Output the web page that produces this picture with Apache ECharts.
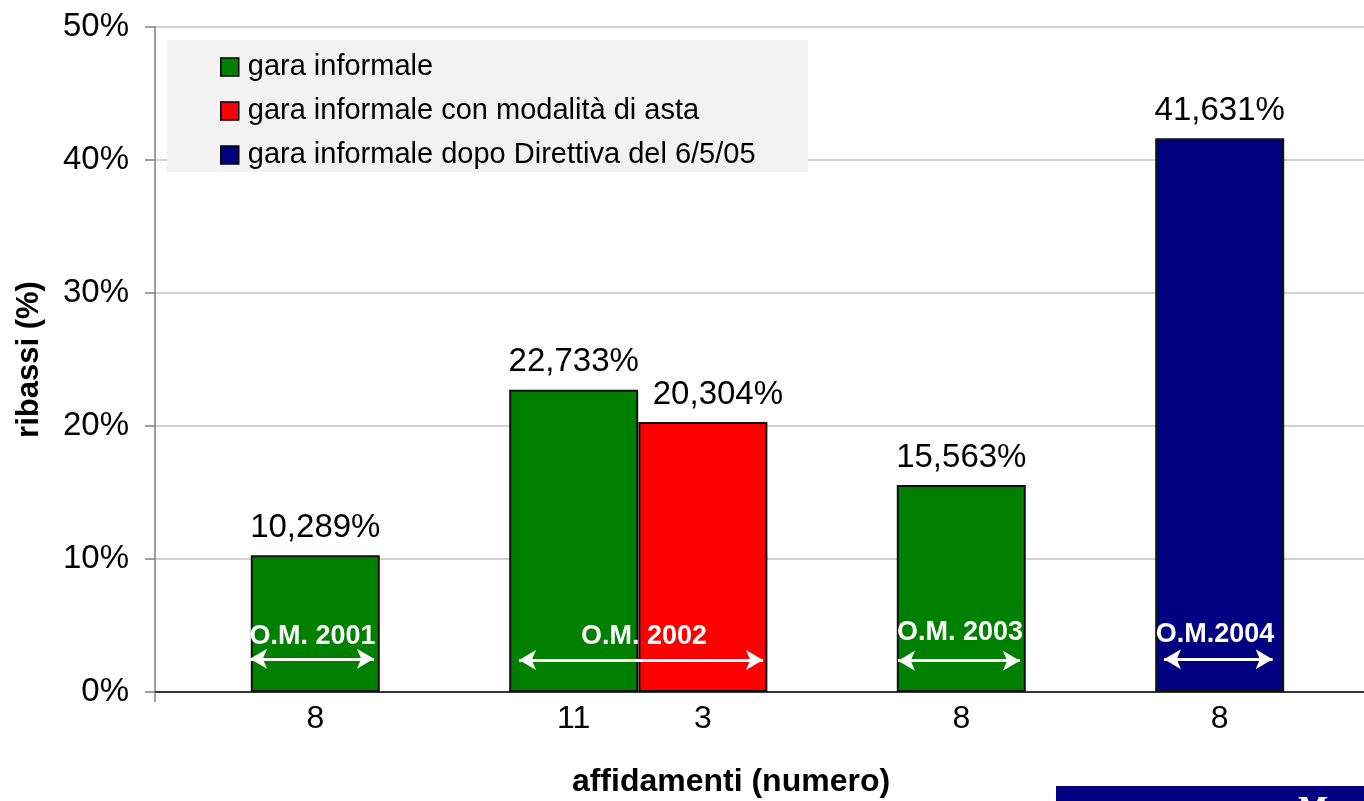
<!DOCTYPE html>
<html><head><meta charset="utf-8">
<script src="https://cdn.jsdelivr.net/npm/echarts@6/dist/echarts.min.js"></script>
<style>html,body{margin:0;padding:0;background:#fff}#c{width:1364px;height:801px}</style>
</head><body><div id="c"></div>
<script>
// ---- data ----
const seriesNames = ['gara informale', 'gara informale con modalità di asta', 'gara informale dopo Direttiva del 6/5/05'];
const seriesColors = ['#008000', '#ff0000', '#000080'];
const slotPositions = [1, 3, 4, 6, 8];          // category slot of each bar
const countLabels = ['8', '11', '3', '8', '8']; // affidamenti (numero)
const ribassi = [10.289, 22.733, 20.304, 15.563, 41.631];
const seriesOfBar = [0, 0, 1, 0, 2];
const yMin = 0, yMax = 50, yStep = 10;
const xMin = -0.2407, xMax = 9.117;
// annotations (ordinanze)
const omLabels = ['O.M. 2001', 'O.M. 2002', 'O.M. 2003', 'O.M.2004'];
const omTextX = [0.978, 3.544, 5.990, 7.964];
const omTextY = [4.14, 4.14, 4.44, 4.29];
const omArrowFrom = [0.495, 2.577, 5.510, 7.569];
const omArrowTo = [1.454, 4.465, 6.454, 8.410];
const omArrowY = [2.50, 2.41, 2.35, 2.46];

// ---- styles ----
const FONT = 'Liberation Sans, Arial, sans-serif';
const labelNudge = {2: [15, 0]}; // bar index -> label offset in px
const chart = echarts.init(document.getElementById('c'), null, {renderer: 'canvas'});

const barSeries = seriesNames.map((name, k) => ({
  name: name,
  type: 'bar',
  barWidth: 129,
  barGap: '-100%',
  data: slotPositions.map((p, i) => seriesOfBar[i] === k
      ? {value: [p, ribassi[i]], label: labelNudge[i] ? {offset: labelNudge[i]} : undefined}
      : null).filter(d => d),
  itemStyle: {color: seriesColors[k], borderColor: '#111', borderWidth: 2},
  label: {
    show: true, position: 'top', distance: 11,
    fontFamily: FONT, fontSize: 33, color: '#000',
    formatter: p => p.value[1].toFixed(3).replace('.', ',') + '%'
  },
  z: 3
}));

const annotSeries = {
  name: 'annotazioni',
  type: 'scatter',
  symbolSize: 1,
  itemStyle: {color: 'rgba(0,0,0,0)', opacity: 1},
  silent: true,
  z: 6,
  data: omLabels.map((t, i) => [omTextX[i], omTextY[i], t]),
  label: {
    show: true, position: 'inside',
    formatter: p => p.value[2],
    color: '#fff', fontWeight: 'bold', fontFamily: FONT, fontSize: 27
  },
  markLine: {
    silent: true,
    symbol: ['arrow', 'arrow'],
    symbolSize: [15, 17],
    label: {show: false},
    lineStyle: {color: '#fff', width: 3, type: 'solid', opacity: 1},
    emphasis: {disabled: true},
    data: omLabels.map((t, i) => [{coord: [omArrowFrom[i], omArrowY[i]]}, {coord: [omArrowTo[i], omArrowY[i]]}])
  }
};

chart.setOption({
  backgroundColor: '#fff',
  animation: false,
  grid: {left: 155, right: 0, top: 27, bottom: 109, containLabel: false, outerBoundsMode: 'none'},
  legend: {
    orient: 'vertical', left: 215, top: 47,
    data: seriesNames, icon: 'rect', itemWidth: 18, itemHeight: 18, itemGap: 14,
    selectedMode: false, z: 20,
    itemStyle: {borderColor: '#000', borderWidth: 1.5},
    textStyle: {fontFamily: FONT, fontSize: 29, color: '#000', lineHeight: 30, padding: [0, 0, 0, 4]}
  },
  xAxis: {
    type: 'value', min: xMin, max: xMax,
    axisLine: {show: true, onZero: false, lineStyle: {color: '#000', width: 1.5}},
    axisTick: {show: true, customValues: [xMin], length: 10, lineStyle: {color: '#808080', width: 1.5}},
    splitLine: {show: false},
    axisLabel: {
      customValues: slotPositions,
      formatter: v => countLabels[slotPositions.indexOf(v)] ?? '',
      fontFamily: FONT, fontSize: 32, color: '#000', margin: 11
    }
  },
  yAxis: {
    type: 'value', min: yMin, max: yMax, interval: yStep,
    name: 'ribassi (%)', nameLocation: 'middle', nameGap: 110, nameRotate: 90,
    nameTextStyle: {fontFamily: FONT, fontSize: 31, fontWeight: 'bold', color: '#000'},
    axisLine: {show: true, onZero: false, lineStyle: {color: '#808080', width: 1.5}},
    axisTick: {show: true, length: 10, lineStyle: {color: '#808080', width: 1.5}},
    splitLine: {show: true, lineStyle: {color: '#c0c0c0', width: 1.5}},
    axisLabel: {formatter: '{value}%', fontFamily: FONT, fontSize: 33, color: '#000', margin: 26}
  },
  graphic: [
    {type: 'rect', z: 10, shape: {x: 167, y: 40, width: 641, height: 132}, style: {fill: '#f2f2f2'}},
    {type: 'text', z: 10, x: 731, y: 782, style: {text: 'affidamenti (numero)', fill: '#000', font: 'bold 32px ' + FONT, textAlign: 'center', textVerticalAlign: 'middle'}},
    {type: 'rect', z: 10, shape: {x: 1056, y: 786, width: 308, height: 15}, style: {fill: '#000080'}},
    {type: 'text', z: 11, x: 1298, y: 794, style: {text: 'M', fill: '#fff', font: 'bold 32px Liberation Serif, serif', textAlign: 'left', textVerticalAlign: 'top'}}
  ],
  series: [...barSeries, annotSeries]
});
</script>
</body></html>
